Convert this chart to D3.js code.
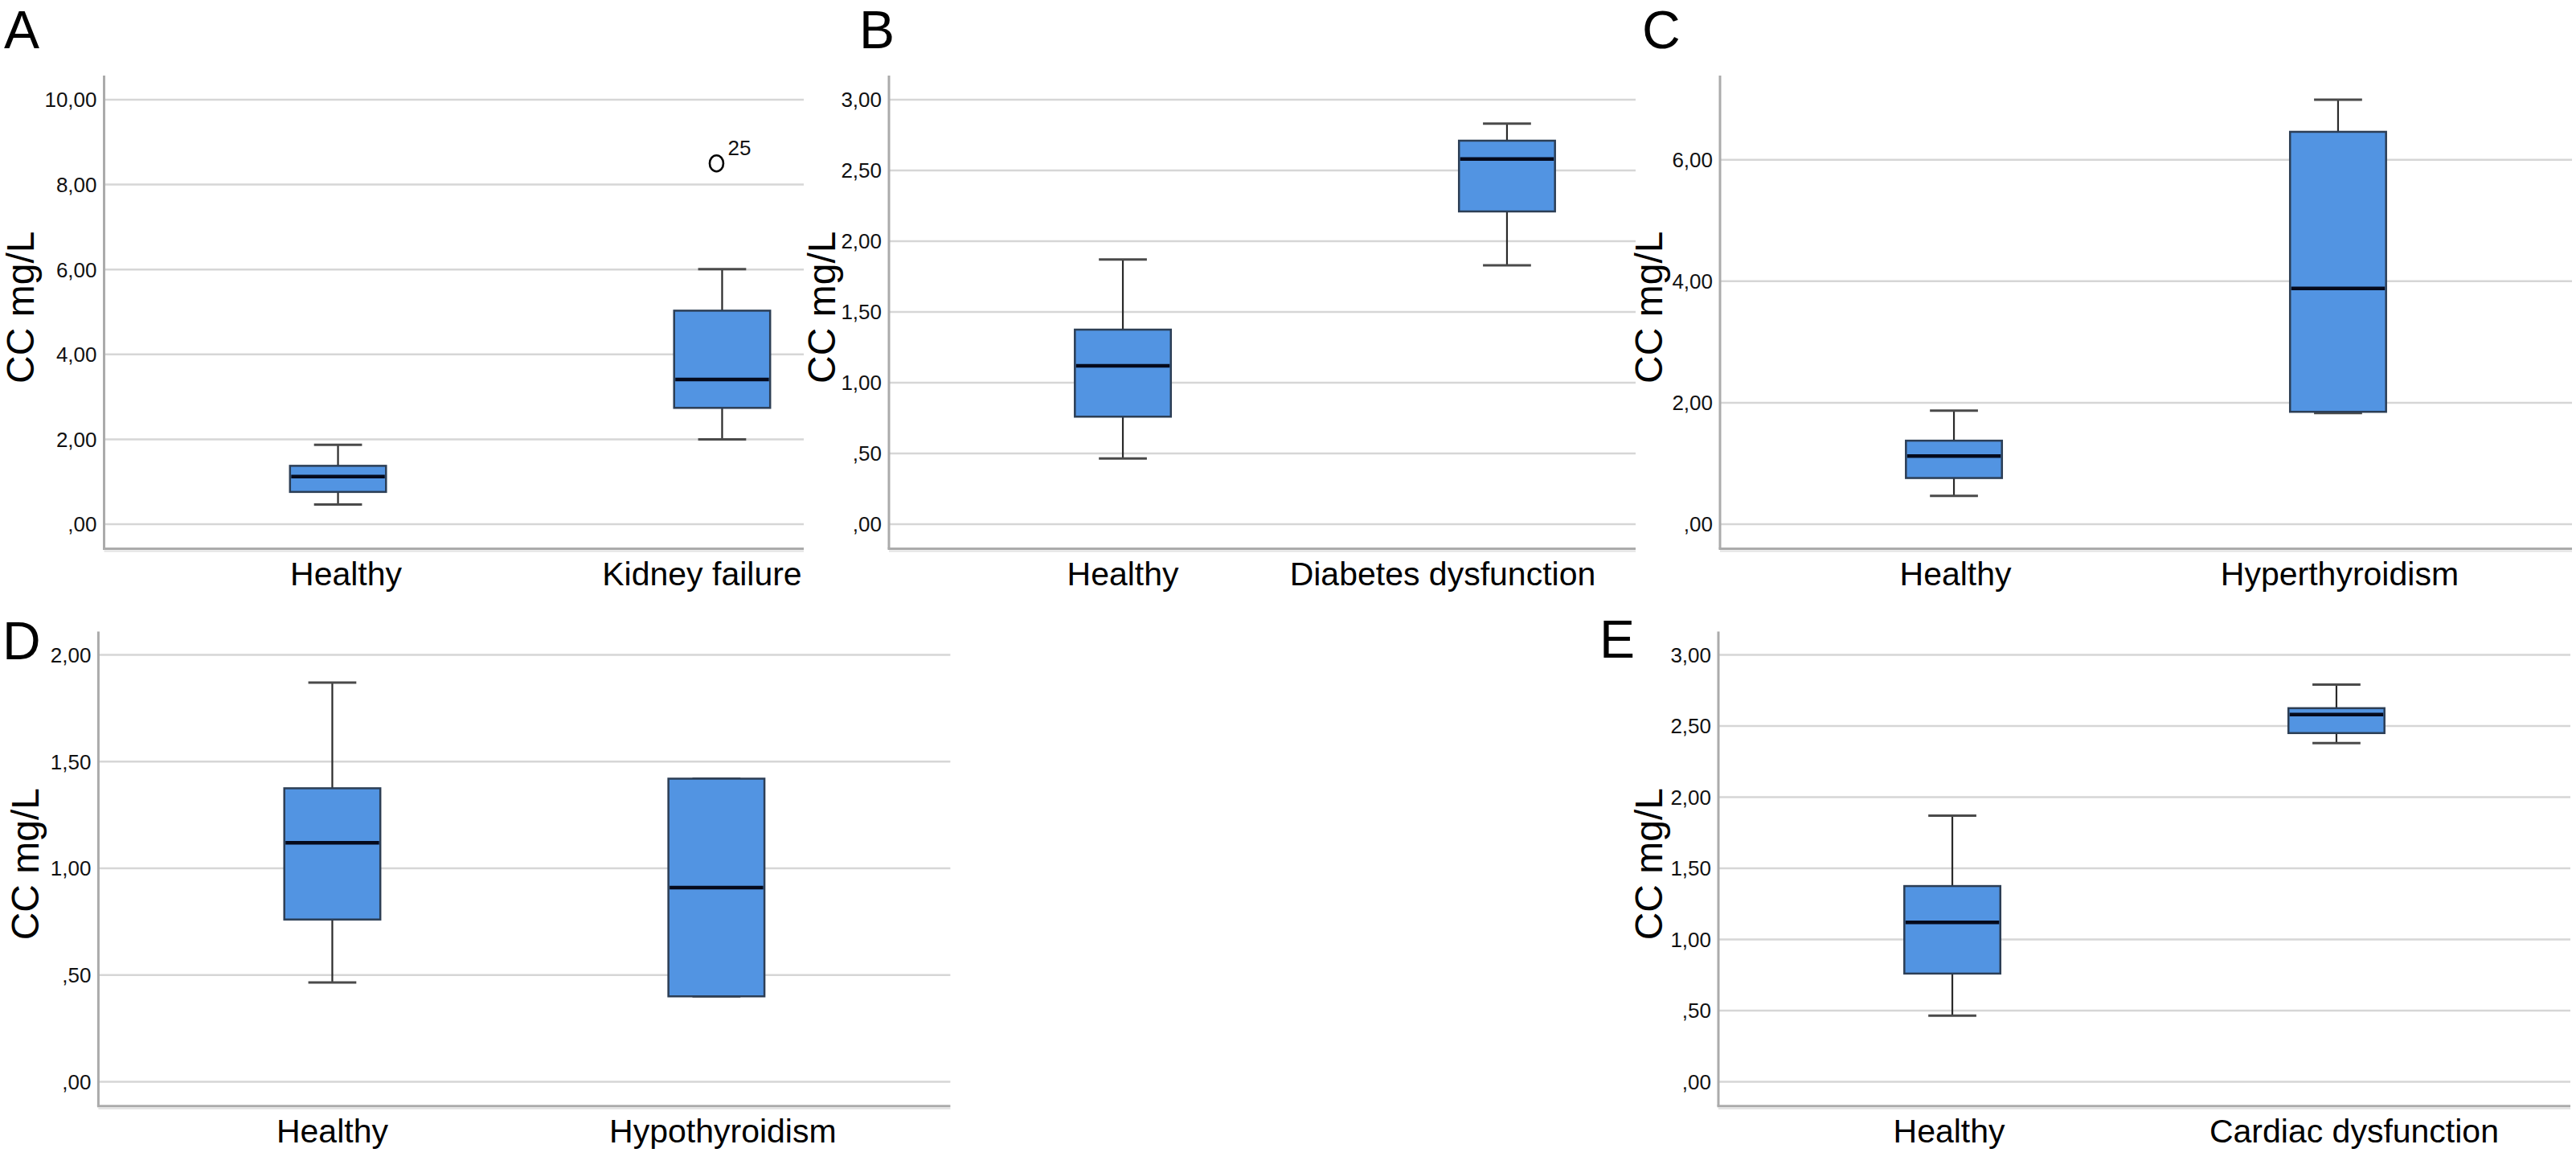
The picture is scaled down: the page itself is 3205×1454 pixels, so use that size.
<!DOCTYPE html>
<html lang="en">
<head>
<meta charset="UTF-8">
<title>CC mg/L boxplots</title>
<script src="https://d3js.org/d3.v7.min.js"></script>
<style>
  body { margin: 0; background: #fff; }
  svg { display: block; font-family: "Liberation Sans", Arial, Helvetica, sans-serif; }
  .grid { stroke: #d6d6d6; stroke-width: 2.5; }
  .axis { stroke: #ababab; stroke-width: 3; }
  .tick { font-size: 26px; fill: #111; }
  .cat { font-size: 41px; fill: #000; }
  .ylab { font-size: 48px; fill: #000; }
  .letter { font-size: 66px; fill: #000; }
</style>
</head>
<body>
<svg id="chart" width="3205" height="1454"></svg>
<script>
// data
const panelLetters = ["A", "B", "C", "D", "E"];
const groupNames = [
  ["Healthy", "Kidney failure"],
  ["Healthy", "Diabetes dysfunction"],
  ["Healthy", "Hyperthyroidism"],
  ["Healthy", "Hypothyroidism"],
  ["Healthy", "Cardiac dysfunction"]
];
const whiskerLow  = [[0.465, 2.00], [0.465, 1.83], [0.465, 1.83], [0.465, 0.40], [0.465, 2.38]];
const q1          = [[0.76, 2.74], [0.76, 2.21], [0.76, 1.85], [0.76, 0.40], [0.76, 2.45]];
const medians     = [[1.12, 3.41], [1.12, 2.58], [1.12, 3.88], [1.12, 0.91], [1.12, 2.58]];
const q3          = [[1.375, 5.03], [1.375, 2.71], [1.375, 6.46], [1.375, 1.42], [1.375, 2.625]];
const whiskerHigh = [[1.87, 6.01], [1.87, 2.83], [1.87, 6.99], [1.87, 1.42], [1.87, 2.79]];
const outlierPanel = [0];
const outlierGroup = [1];
const outlierValue = [8.5];
const outlierLabel = ["25"];
const yTicks = [
  [0, 2, 4, 6, 8, 10],
  [0, 0.5, 1, 1.5, 2, 2.5, 3],
  [0, 2, 4, 6],
  [0, 0.5, 1, 1.5, 2],
  [0, 0.5, 1, 1.5, 2, 2.5, 3]
];
const yTickLabels = [
  [",00", "2,00", "4,00", "6,00", "8,00", "10,00"],
  [",00", ",50", "1,00", "1,50", "2,00", "2,50", "3,00"],
  [",00", "2,00", "4,00", "6,00"],
  [",00", ",50", "1,00", "1,50", "2,00"],
  [",00", ",50", "1,00", "1,50", "2,00", "2,50", "3,00"]
];
const yTitle = "CC mg/L";

// layout of each panel
const layout = [
  { left: 129.5, top: 94,    bottom: 682.5,  clipRight: 1000, yDom: [-0.578, 10.568], labX: 42,   letX: 5,    letY: 60,  shift: [10, -25] },
  { left: 1106,  top: 94,    bottom: 682.5,  clipRight: 2035, yDom: [-0.173, 3.170],  labX: 1039, letX: 1069, letY: 60,  shift: [0, -80] },
  { left: 2140,  top: 94,    bottom: 682.5,  clipRight: 3205, yDom: [-0.404, 7.386],  labX: 2068, letX: 2043, letY: 60,  shift: [2, 2] },
  { left: 122.4, top: 785.6, bottom: 1375.7, clipRight: 3205, yDom: [-0.114, 2.109],  labX: 48,   letX: 3,    letY: 820, shift: [0, 8] },
  { left: 2138,  top: 785.6, bottom: 1375.7, clipRight: 3205, yDom: [-0.171, 3.163],  labX: 2068, letX: 1990, letY: 818, shift: [-4, 22] }
];
const plotWidth = 1060;

const svg = d3.select("#chart");
svg.append("rect").attr("width", 3205).attr("height", 1454).attr("fill", "#fff");

panelLetters.forEach((letter, p) => {
  const L = layout[p];
  const clipId = "clip" + p;
  svg.append("clipPath").attr("id", clipId)
    .append("rect").attr("x", 0).attr("y", 0).attr("width", L.clipRight).attr("height", 1454);

  const g = svg.append("g").attr("clip-path", `url(#${clipId})`);

  const x = d3.scaleBand().domain(groupNames[p]).range([L.left, L.left + plotWidth])
    .paddingInner(0).paddingOuter(0.109);
  const y = d3.scaleLinear().domain(L.yDom).range([L.bottom, L.top]);
  const right = L.left + plotWidth;

  // gridlines
  g.selectAll(".grid").data(yTicks[p]).join("line")
    .attr("class", "grid")
    .attr("x1", L.left).attr("x2", right)
    .attr("y1", d => y(d)).attr("y2", d => y(d));

  // tick labels
  g.selectAll(".tick").data(yTicks[p]).join("text")
    .attr("class", "tick")
    .attr("x", L.left - 9).attr("y", d => y(d)).attr("dy", "0.36em")
    .attr("text-anchor", "end")
    .text((d, i) => yTickLabels[p][i]);

  // axes
  g.append("line").attr("class", "axis")
    .attr("x1", L.left).attr("x2", L.left).attr("y1", L.top).attr("y2", L.bottom);
  g.append("line").attr("stroke", "#e2e2e2").attr("stroke-width", 2)
    .attr("x1", L.left).attr("x2", right).attr("y1", L.bottom + 3).attr("y2", L.bottom + 3);
  g.append("line").attr("class", "axis")
    .attr("x1", L.left - 1.5).attr("x2", right).attr("y1", L.bottom).attr("y2", L.bottom);

  // boxes
  const bw = x.bandwidth() * 0.25;
  groupNames[p].forEach((name, i) => {
    const cx = x(name) + x.bandwidth() / 2;
    const bg = g.append("g");
    bg.append("line").attr("stroke", "#2a2a2a").attr("stroke-width", 2.2)
      .attr("x1", cx).attr("x2", cx).attr("y1", y(whiskerHigh[p][i])).attr("y2", y(q3[p][i]));
    bg.append("line").attr("stroke", "#2a2a2a").attr("stroke-width", 2.2)
      .attr("x1", cx).attr("x2", cx).attr("y1", y(q1[p][i])).attr("y2", y(whiskerLow[p][i]));
    [whiskerHigh[p][i], whiskerLow[p][i]].forEach(v => {
      bg.append("line").attr("stroke", "#4a4a4a").attr("stroke-width", 3)
        .attr("x1", cx - bw / 4).attr("x2", cx + bw / 4).attr("y1", y(v)).attr("y2", y(v));
    });
    bg.append("rect")
      .attr("x", cx - bw / 2).attr("width", bw)
      .attr("y", y(q3[p][i])).attr("height", y(q1[p][i]) - y(q3[p][i]))
      .attr("fill", "#5294e2").attr("stroke", "#2c3e55").attr("stroke-width", 2.5);
    bg.append("line").attr("stroke", "#050a1c").attr("stroke-width", 4.5)
      .attr("x1", cx - bw / 2 + 1.5).attr("x2", cx + bw / 2 - 1.5)
      .attr("y1", y(medians[p][i])).attr("y2", y(medians[p][i]));

    g.append("text").attr("class", "cat")
      .attr("x", x(name) + x.bandwidth() / 2 + L.shift[i]).attr("y", L.bottom + 45)
      .attr("text-anchor", "middle").text(name);
  });

  // outliers
  outlierPanel.forEach((op, k) => {
    if (op !== p) return;
    const name = groupNames[p][outlierGroup[k]];
    const cx = x(name) + x.bandwidth() / 2 - 7;
    const cy = y(outlierValue[k]);
    g.append("ellipse").attr("cx", cx).attr("cy", cy).attr("rx", 8.5).attr("ry", 10)
      .attr("fill", "none").attr("stroke", "#000").attr("stroke-width", 2.6);
    g.append("text").attr("class", "tick").attr("x", cx + 14).attr("y", cy - 10)
      .text(outlierLabel[k]);
  });

  // y title
  svg.append("text").attr("class", "ylab")
    .attr("transform", `translate(${L.labX},${(L.top + L.bottom) / 2 - 6}) rotate(-90)`)
    .attr("text-anchor", "middle").text(yTitle);

  // panel letter
  svg.append("text").attr("class", "letter").attr("x", L.letX).attr("y", L.letY).text(letter);
});
</script>
</body>
</html>
